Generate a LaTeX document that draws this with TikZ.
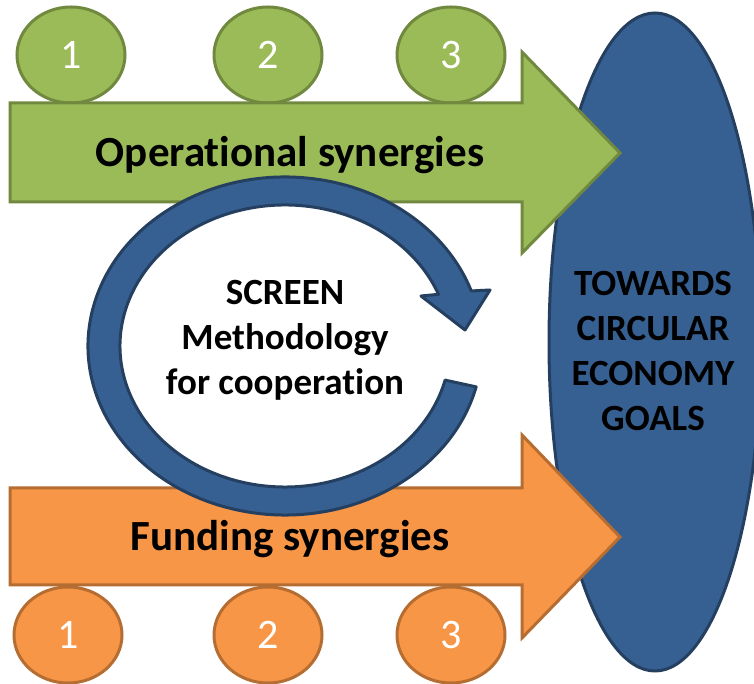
\documentclass[tikz,border=0pt]{standalone}
\usepackage{fontspec}
\setmainfont{Carlito}[Ligatures=NoCommon]
\usetikzlibrary{shapes.geometric}
\definecolor{opgreen}{HTML}{9BBB59}
\definecolor{opgreenline}{HTML}{71893F}
\definecolor{fundorange}{HTML}{F79646}
\definecolor{fundorangeline}{HTML}{B66D31}
\definecolor{ceblue}{HTML}{376092}
\definecolor{ceblueline}{HTML}{243F60}
\tikzset{
  greenshape/.style={draw=opgreenline, fill=opgreen, line width=3pt, line join=miter},
  orangeshape/.style={draw=fundorangeline, fill=fundorange, line width=3pt, line join=miter},
  blueshape/.style={draw=ceblueline, fill=ceblue, line width=3pt, line join=round},
  ball/.style={ellipse, minimum width=108pt, minimum height=96pt, inner sep=0pt,
    text=white, font=\fontsize{42}{48}\selectfont},
  bigtext/.style={font=\bfseries\fontsize{43}{50}\selectfont, inner sep=0pt},
  boldblock/.style={font=\bfseries\fontsize{37}{45}\selectfont, align=center, inner sep=0pt}
}
\begin{document}
\begin{tikzpicture}[x=1pt,y=1pt]
	%%%%% START %%%%%
	\useasboundingbox (0,0) rectangle (754,684);
	\clip (0,0) rectangle (754,684);
	
	\fill[white] (0,0) rectangle (754,684);
	
	% goals ellipse
	\draw[blueshape] (655,342) ellipse [x radius=106, y radius=329];
	
	% numbered circles
	\node[ball, greenshape] (op1) at (71,629) {1};
	\node[ball, greenshape] (op2) at (268,629) {2};
	\node[ball, greenshape] (op3) at (451,629) {3};
	
	\node[ball, orangeshape] (fu1) at (68,49) {1};
	\node[ball, orangeshape] (fu2) at (268,49) {2};
	\node[ball, orangeshape] (fu3) at (451,49) {3};
	
	% big arrows
	\draw[greenshape] (10,581) -- (522,581) -- (522,632) -- (620,531) -- (522,431) -- (522,482) -- (10,482) -- cycle;
	\draw[orangeshape] (10,196) -- (522,196) -- (522,249) -- (620,147) -- (522,46) -- (522,99) -- (10,99) -- cycle;
	
	% circular arrow
	\draw[blueshape] (285,338) ++(-14:197 and 169) arc[start angle=-14, end angle=-341, x radius=197, y radius=169]
		-- (490,394) -- (465,354) -- (421,388) -- ([shift={(285,338)}]21.5:165 and 141)
		arc[start angle=21.5, end angle=346, x radius=165, y radius=141] -- cycle;
	
	% texts
	\node[bigtext, anchor=base] (optext) at (290,517) {Operational synergies};
	\node[bigtext, anchor=base] (futext) at (290,133) {Funding synergies};
	\node[boldblock] (screen) at (285,344) {SCREEN\\Methodology\\for cooperation};
	\node[boldblock] (goals) at (653,333) {TOWARDS\\CIRCULAR\\ECONOMY\\GOALS};
	
	%%%%% END %%%%%
\end{tikzpicture}
\end{document}
